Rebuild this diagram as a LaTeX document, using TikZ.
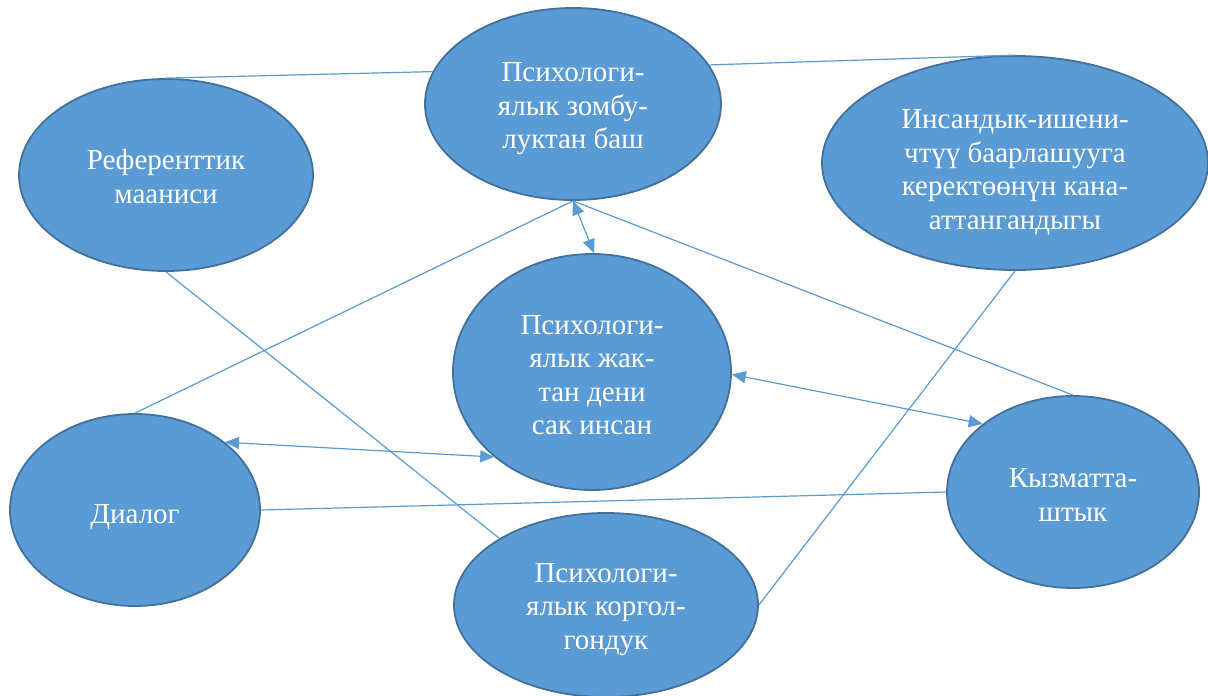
\documentclass[tikz,border=0pt]{standalone}
\usepackage{fontspec}
\setmainfont{Liberation Serif}
\newfontfamily\bubblefont{Liberation Serif}
\usetikzlibrary{shapes.geometric,arrows.meta}
\definecolor{ofill}{HTML}{5B9BD5}
\definecolor{oedge}{HTML}{41719C}
\begin{document}
\begin{tikzpicture}[x=1pt,y=-1pt,
  bubble/.style={ellipse, draw=oedge, line width=1.8pt, fill=ofill, text=white,
    inner sep=0pt, align=center, font=\bubblefont\fontsize{29}{33.5}\selectfont},
  link/.style={draw=ofill, line width=1.2pt},
  biarrow/.style={link, {Triangle[length=14pt,width=12pt]}-{Triangle[length=14pt,width=12pt]}}]
\path[use as bounding box, fill=white] (0,0) rectangle (1208,696);

\node[bubble, minimum width=296pt, minimum height=192pt] (Z) at (573,104) {\rule{0pt}{0pt}\\[-5pt]Психологи-\\ялык зомбу-\\луктан баш};
\node[bubble, minimum width=294pt, minimum height=192pt] (R) at (166,175) {\rule{0pt}{0pt}\\[-10pt]Референттик\\мааниси};
\node[bubble, minimum width=386pt, minimum height=214pt] (I) at (1015,163) {\rule{0pt}{0pt}\\[4pt]Инсандык-ишени-\\чтүү баарлашууга\\керектөөнүн кана-\\аттангандыгы};
\node[bubble, minimum width=278pt, minimum height=236pt] (C) at (592,372) {\rule{0pt}{0pt}\\[-8pt]Психологи-\\ялык жак-\\тан дени\\сак инсан};
\node[bubble, minimum width=250pt, minimum height=192pt] (D) at (135,510) {\rule{0pt}{0pt}\\[-1pt]Диалог};
\node[bubble, minimum width=252pt, minimum height=192pt] (K) at (1073,492) {\rule{0pt}{0pt}\\[-9pt]Кызматта-\\штык};
\node[bubble, minimum width=304pt, minimum height=184pt] (G) at (606,605) {\rule{0pt}{0pt}\\[-6pt]Психологи-\\ялык коргол-\\гондук};

\draw[link] (R.north) -- (Z.167);
\draw[link] (Z.16) -- (I.north);
\draw[link] (D.north) -- (Z.south);
\draw[link] (K.north) -- (Z.south);
\draw[link] (R.south) -- (G.148);
\draw[link] (I.south) -- (G.east);
\draw[link] (D.east) -- (K.west);
\draw[biarrow] (Z.south) -- (C.89);
\draw[biarrow] (D.37) -- (C.221);
\draw[biarrow] (C.-1) -- (K.143);
\end{tikzpicture}
\end{document}
